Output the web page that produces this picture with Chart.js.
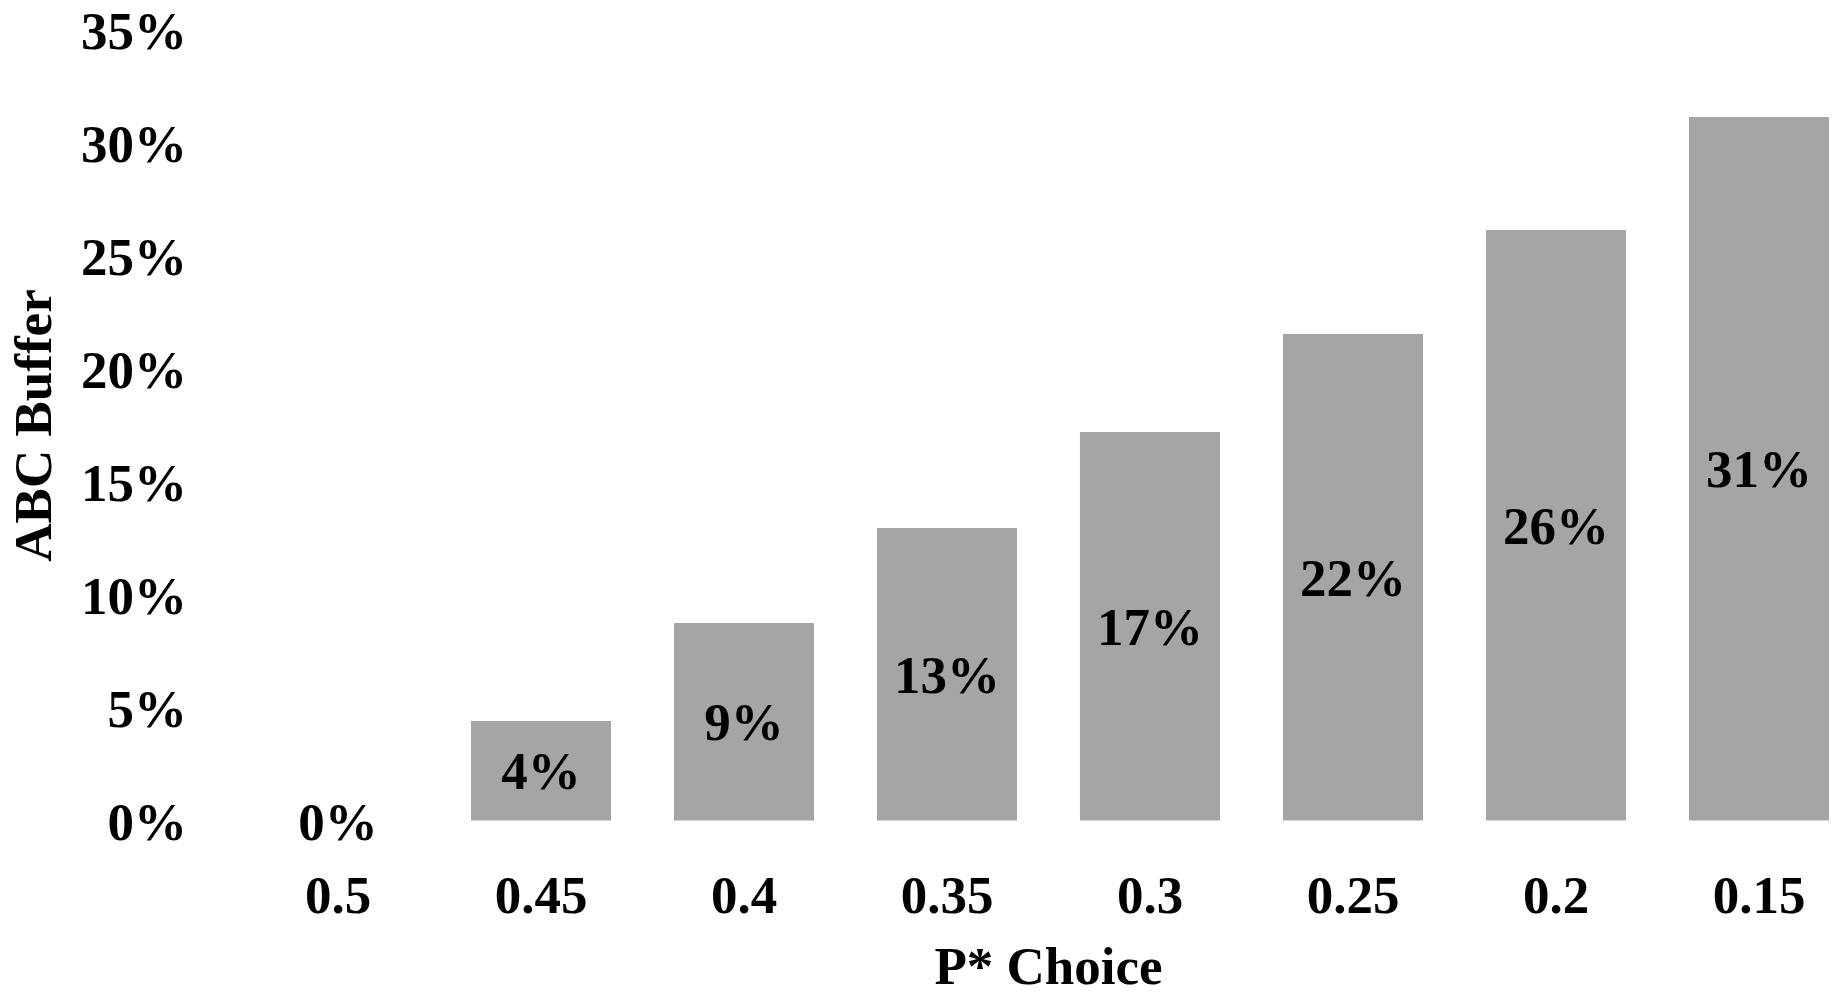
<!DOCTYPE html>
<html>
<head>
<meta charset="utf-8">
<script src="https://cdn.jsdelivr.net/npm/chart.js@4"></script>
<style>
  html, body { margin: 0; padding: 0; background: #fff; overflow: hidden; }
  #wrap { width: 1836px; height: 1002px; position: relative; }
</style>
</head>
<body>
<div id="wrap"><canvas id="monGraphique"></canvas></div>
<script>
// Choix de P* (axe X) et buffer ABC en % (axe Y)
const pChoices = ['0.5', '0.45', '0.4', '0.35', '0.3', '0.25', '0.2', '0.15'];
const abcBuffer = [0, 4.42, 8.76, 12.96, 17.21, 21.55, 26.15, 31.15];

const yMin = 0;
const yMax = 35;
const yStep = 5;

const fontFamily = '"Liberation Serif", "Times New Roman", serif';
const barColor = '#A5A5A5';

// Etiquettes au milieu de chaque barre
const valueLabels = {
    id: 'valueLabels',
    afterDatasetsDraw(chart) {
        const ctx = chart.ctx;
        ctx.save();
        ctx.font = 'bold 53px ' + fontFamily;
        ctx.fillStyle = '#000';
        ctx.textAlign = 'center';
        ctx.textBaseline = 'middle';
        chart.getDatasetMeta(0).data.forEach((bar, i) => {
            const v = chart.data.datasets[0].data[i];
            // petit décalage vers le bas pour centrer les chiffres
            const yMid = (bar.y + bar.base) / 2 + 5;
            ctx.fillText(Math.round(v) + '%', bar.x, yMid);
        });
        ctx.restore();
    }
};

// Les marques de graduation invisibles servent d'espace entre axe et libellés
// (le padding des ticks décale aussi la zone du graphique)
const ctx = document.getElementById('monGraphique').getContext('2d');
const myChart = new Chart(ctx, {
    type: 'bar',
    data: {
        labels: pChoices,
        datasets: [{
            label: 'ABC Buffer',
            data: abcBuffer,
            backgroundColor: barColor,
            borderWidth: 0,
            barPercentage: 0.69,
            categoryPercentage: 1,
            clip: false
        }]
    },
    options: {
        responsive: true,
        maintainAspectRatio: false,
        animation: false,
        layout: { padding: { top: 30, right: 77, left: 0, bottom: 0 } },
        plugins: {
            legend: { display: false },
            tooltip: { enabled: false }
        },
        scales: {
            x: {
                offset: false,
                grid: {
                    display: true,
                    drawOnChartArea: false,
                    drawTicks: true,
                    tickLength: 49,
                    color: 'rgba(0,0,0,0)'
                },
                border: { display: false },
                ticks: {
                    color: '#000',
                    padding: 0,
                    maxRotation: 0,
                    font: { family: fontFamily, size: 53, weight: 'bold', lineHeight: 1.1 }
                },
                title: {
                    display: true,
                    text: 'P* Choice',
                    color: '#000',
                    padding: { top: 0, bottom: 0 },
                    font: { family: fontFamily, size: 53, weight: 'bold' }
                },
                afterFit(scale) { scale.height = 181; }
            },
            y: {
                min: yMin,
                max: yMax,
                grid: {
                    display: true,
                    drawOnChartArea: false,
                    drawTicks: true,
                    tickLength: 151,
                    color: 'rgba(0,0,0,0)'
                },
                border: { display: false },
                ticks: {
                    stepSize: yStep,
                    color: '#000',
                    padding: 0,
                    labelOffset: 5,
                    font: { family: fontFamily, size: 53, weight: 'bold', lineHeight: 1.1 },
                    callback: value => value + '%'
                },
                title: {
                    display: true,
                    text: 'ABC Buffer',
                    color: '#000',
                    padding: { top: 6, bottom: 0 },
                    font: { family: fontFamily, size: 53, weight: 'bold' }
                },
                afterFit(scale) { scale.width = 338; }
            }
        }
    },
    plugins: [valueLabels]
});
</script>
</body>
</html>
